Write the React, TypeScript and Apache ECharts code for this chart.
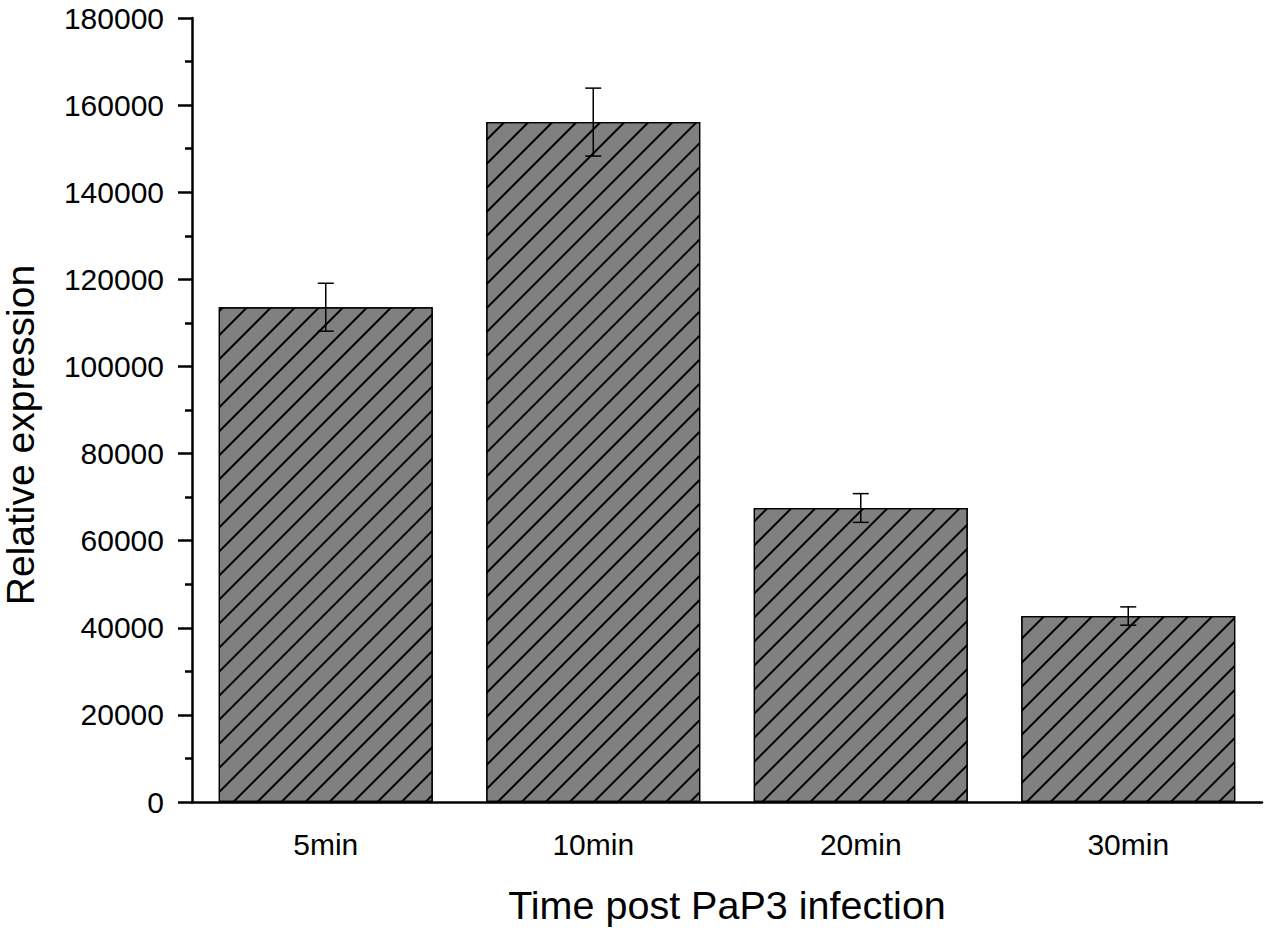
import React, { useEffect, useRef } from "react";
import * as echarts from "echarts";

const categories = ["5min", "10min", "20min", "30min"];
const values = [113600, 156100, 67500, 42700];
const errors = [5500, 7800, 3300, 2100];
const yTicks = [0, 20000, 40000, 60000, 80000, 100000, 120000, 140000, 160000, 180000];

export default function App() {
  const ref = useRef<HTMLDivElement>(null);
  useEffect(() => {
    const chart = echarts.init(ref.current!, undefined, { renderer: "svg" });
    const font = "'Liberation Sans', Arial, sans-serif";
    const errData = values.map((v, i) => [i, v - errors[i], v + errors[i]]);
    chart.setOption({
      animation: false,
      backgroundColor: "#fff",
      grid: { left: 192, right: 5, top: 18, bottom: 126, outerBoundsMode: "none", containLabel: false },
      xAxis: [
        {
          type: "category",
          data: categories,
          position: "bottom",
          name: "Time post PaP3 infection",
          nameLocation: "middle",
          nameGap: 83,
          nameTextStyle: { fontFamily: font, fontSize: 39.5, color: "#000" },
          axisLine: { lineStyle: { color: "#000", width: 2.5 } },
          axisTick: { alignWithLabel: true, length: 16, lineStyle: { color: "#000", width: 2.5 } },
          axisLabel: { fontFamily: font, fontSize: 30, color: "#000", margin: 27 },
        },
        {
          type: "category",
          data: categories,
          position: "bottom",
          axisLine: { show: false },
          axisTick: { alignWithLabel: false, length: 9, lineStyle: { color: "#000", width: 2.5 } },
          axisLabel: { show: false },
        },
      ],
      yAxis: {
        type: "value",
        min: 0,
        max: 180000,
        interval: 20000,
        name: "Relative expression",
        nameLocation: "middle",
        nameGap: 152,
        nameTextStyle: { fontFamily: font, fontSize: 39, color: "#000", padding: [0, 50, 0, 0] },
        axisLine: { show: true, lineStyle: { color: "#000", width: 2.5 } },
        axisTick: { show: true, length: 14, lineStyle: { color: "#000", width: 2.5 } },
        minorTick: { show: true, splitNumber: 2, length: 7, lineStyle: { color: "#000", width: 2.5 } },
        splitLine: { show: false },
        axisLabel: {
          fontFamily: font,
          fontSize: 30,
          color: "#000",
          margin: 28,
          formatter: (v: number) => (yTicks.includes(v) ? String(v) : ""),
        },
      },
      series: [
        {
          type: "bar",
          data: values,
          barWidth: "80%",
          itemStyle: {
            color: "#808080",
            borderColor: "#000",
            borderWidth: 1.2,
            decal: {
              symbol: "rect",
              symbolSize: 1,
              color: "#000",
              dashArrayX: [1, 0],
              dashArrayY: [1.3, 14.3],
              rotation: -Math.PI / 4,
            },
          },
        },
        {
          type: "custom",
          data: errData,
          z: 10,
          renderItem: (params: any, api: any) => {
            const x = api.value(0);
            const lo = api.coord([x, api.value(1)]);
            const hi = api.coord([x, api.value(2)]);
            const w = 8;
            const style = { stroke: "#000", lineWidth: 1.5 };
            return {
              type: "group",
              children: [
                { type: "line", shape: { x1: lo[0], y1: lo[1], x2: hi[0], y2: hi[1] }, style },
                { type: "line", shape: { x1: hi[0] - w, y1: hi[1], x2: hi[0] + w, y2: hi[1] }, style },
                { type: "line", shape: { x1: lo[0] - w, y1: lo[1], x2: lo[0] + w, y2: lo[1] }, style },
              ],
            };
          },
        },
      ],
    });
    return () => chart.dispose();
  }, []);
  return <div ref={ref} style={{ position: "fixed", left: 0, top: 0, width: 1267, height: 928 }} />;
}
